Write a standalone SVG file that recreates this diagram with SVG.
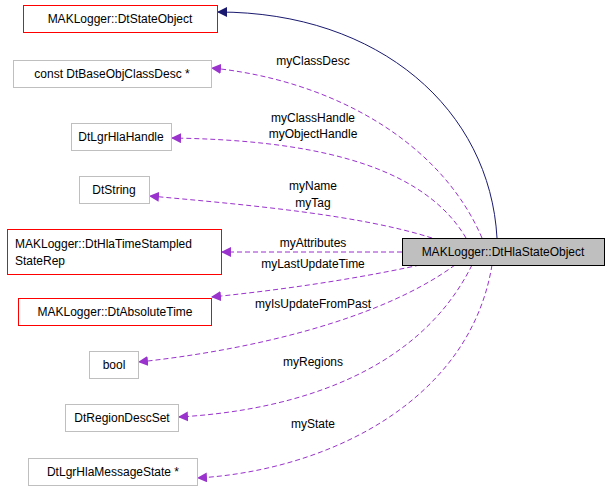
<svg xmlns="http://www.w3.org/2000/svg" width="611" height="493" viewBox="0 0 611 493">
<defs>
<style>
text{font-family:"Liberation Sans",Arial,sans-serif;font-size:12px;fill:#000}
.r{fill:#fff;stroke:#ff0000}
.g{fill:#fff;stroke:#bfbfbf}
.m{fill:#bfbfbf;stroke:#000}
.d{fill:none;stroke:#9a32cd;stroke-dasharray:5,3}
.n{fill:none;stroke:#191970}
.c{text-anchor:middle}
</style>
<marker id="ap" viewBox="0 0 10 10" refX="9" refY="5" markerWidth="10" markerHeight="10" markerUnits="userSpaceOnUse" orient="auto"><path d="M0,0 L10,5 L0,10 z" fill="#9a32cd"/></marker>
<marker id="an" viewBox="0 0 10 10" refX="9" refY="5" markerWidth="10" markerHeight="10" markerUnits="userSpaceOnUse" orient="auto"><path d="M0,0 L10,5 L0,10 z" fill="#191970"/></marker>
</defs>
<g id="edges">
<path class="n" d="M497,238 C490,110 380,12 218,12" marker-end="url(#an)"/>
<path class="d" d="M482,238 C440,140 330,80 212,68" marker-end="url(#ap)"/>
<path class="d" d="M466,238 C420,160 300,140 172,138" marker-end="url(#ap)"/>
<path class="d" d="M432,238 C360,215 250,205 150,196" marker-end="url(#ap)"/>
<path class="d" d="M402,252 L222,252" marker-end="url(#ap)"/>
<path class="d" d="M420,265 C350,280 280,290 212,297" marker-end="url(#ap)"/>
<path class="d" d="M455,265 C380,320 250,350 139,362" marker-end="url(#ap)"/>
<path class="d" d="M472,265 C420,370 300,410 179,417" marker-end="url(#ap)"/>
<path class="d" d="M492,265 C470,400 330,470 198,478" marker-end="url(#ap)"/>
<text class="c" x="313" y="65">myClassDesc</text>
<text class="c" x="313" y="122">myClassHandle</text>
<text class="c" x="313" y="138">myObjectHandle</text>
<text class="c" x="313" y="190">myName</text>
<text class="c" x="313" y="207">myTag</text>
<text class="c" x="313" y="247">myAttributes</text>
<text class="c" x="313" y="268">myLastUpdateTime</text>
<text class="c" x="313" y="308">myIsUpdateFromPast</text>
<text class="c" x="313" y="366">myRegions</text>
<text class="c" x="313" y="428">myState</text>
</g>
<g id="main"><rect class="m" x="402.5" y="238.5" width="202" height="27"/><text class="c" x="503" y="256">MAKLogger::DtHlaStateObject</text></g>
<g id="n1"><rect class="r" x="23.5" y="5.5" width="194" height="27"/><text class="c" x="120" y="23">MAKLogger::DtStateObject</text></g>
<g id="n2"><rect class="g" x="13.5" y="60.5" width="198" height="27"/><text class="c" x="112" y="78">const DtBaseObjClassDesc *</text></g>
<g id="n3"><rect class="g" x="71.5" y="123.5" width="100" height="27"/><text class="c" x="121" y="141">DtLgrHlaHandle</text></g>
<g id="n4"><rect class="g" x="79.5" y="176.5" width="70" height="27"/><text class="c" x="114" y="194">DtString</text></g>
<g id="n5"><rect class="r" x="7.5" y="229.5" width="214" height="45"/><text x="15" y="248">MAKLogger::DtHlaTimeStampled</text><text x="15" y="265">StateRep</text></g>
<g id="n6"><rect class="r" x="18.5" y="298.5" width="193" height="27"/><text class="c" x="115" y="316">MAKLogger::DtAbsoluteTime</text></g>
<g id="n7"><rect class="g" x="89.5" y="351.5" width="49" height="27"/><text class="c" x="114" y="369">bool</text></g>
<g id="n8"><rect class="g" x="65.5" y="404.5" width="113" height="27"/><text class="c" x="122" y="422">DtRegionDescSet</text></g>
<g id="n9"><rect class="g" x="28.5" y="458.5" width="169" height="27"/><text class="c" x="113" y="476">DtLgrHlaMessageState *</text></g>
</svg>
